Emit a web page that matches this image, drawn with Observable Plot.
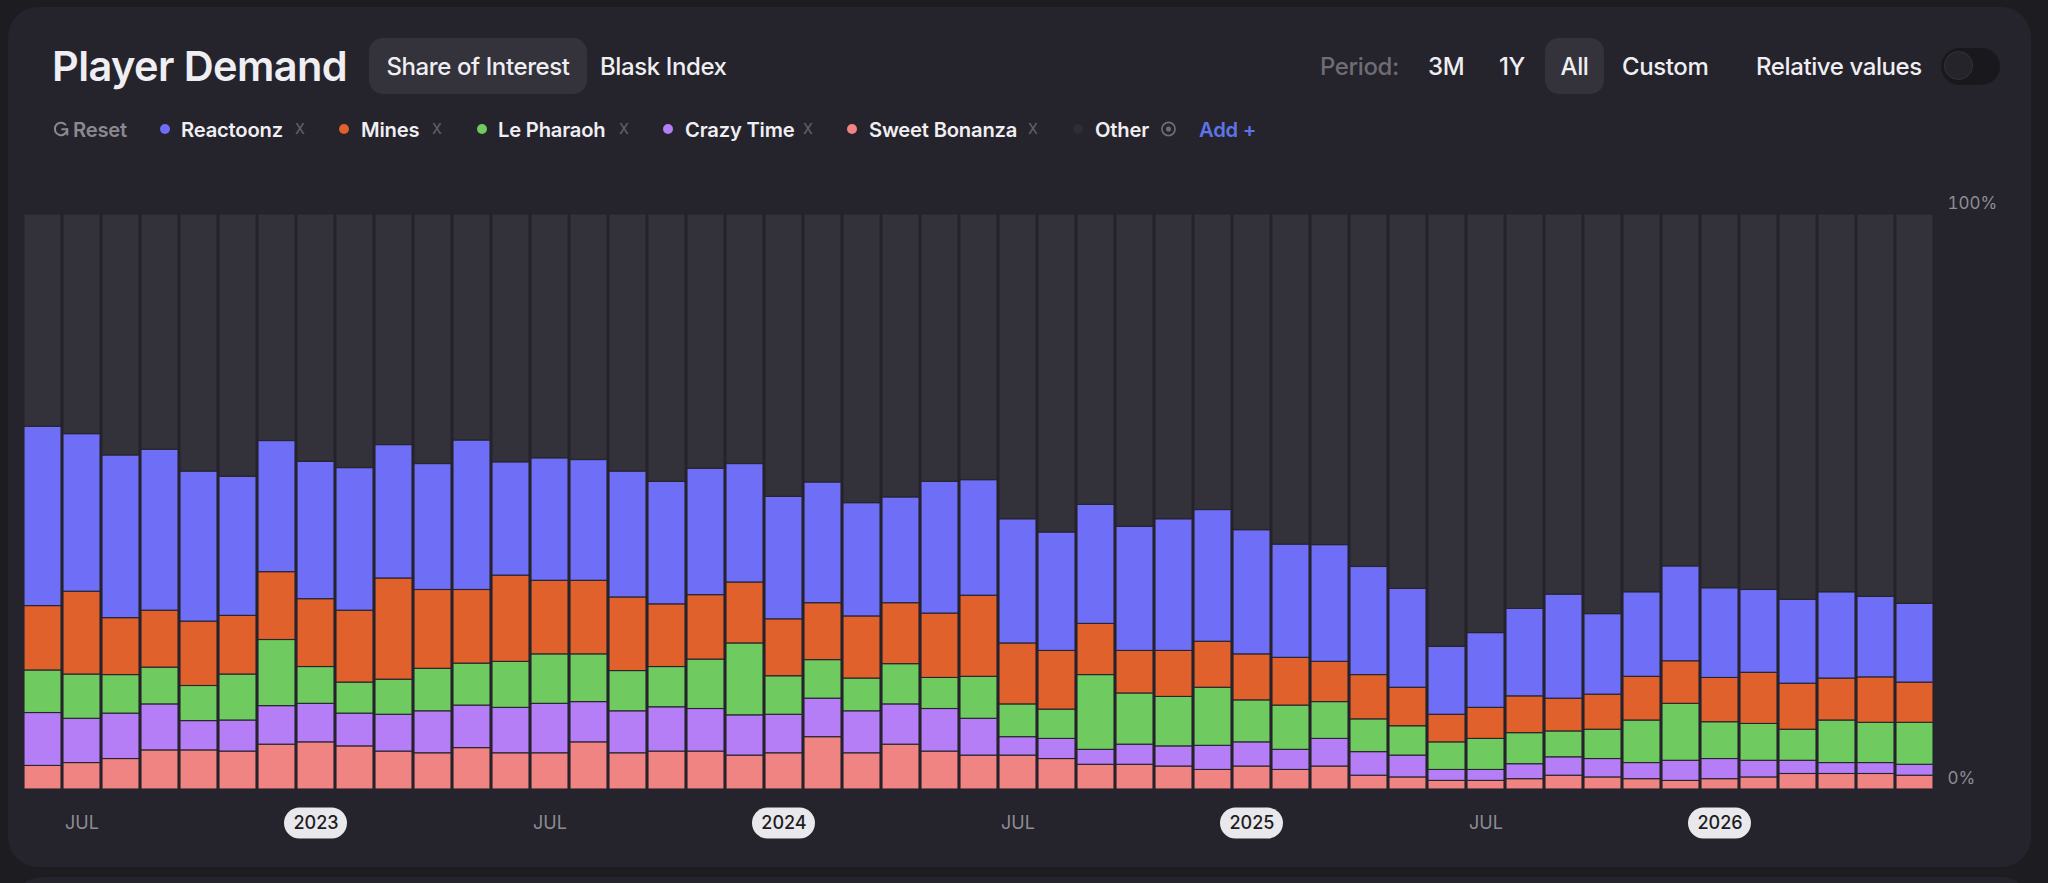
<!DOCTYPE html>
<html>
<head>
<meta charset="utf-8">
<script src="https://cdn.jsdelivr.net/npm/d3@7"></script>
<script src="https://cdn.jsdelivr.net/npm/@observablehq/plot@0.6"></script>
<style>
  html, body { margin: 0; padding: 0; background: #1d1c21; }
  .page { position: relative; width: 2048px; height: 883px; overflow: hidden; background: #1d1c21; font-family: Inter, "Noto Sans", sans-serif; color: #efeef2; }
  .card { position: absolute; left: 8px; top: 7px; width: 2023px; height: 860px; background: #25232b; border-radius: 30px; }
  .card2 { position: absolute; left: 12px; top: 877px; width: 2019px; height: 60px; background: #25232b; border-radius: 30px; }
  .it { position: absolute; display: flex; align-items: center; transform: translateY(-50%); white-space: nowrap; }
  .title { font-size: 41.5px; font-weight: 600; letter-spacing: -0.6px; height: 56px; }
  .tab { font-size: 24px; font-weight: 500; height: 56px; letter-spacing: -0.4px; }
  .btn { background: #34323a; border-radius: 14px; justify-content: center; }
  .muted { color: #6e6c74; }
  .leg { font-size: 20.2px; font-weight: 600; height: 30px; letter-spacing: -0.2px; }
  .dot { position: absolute; width: 10px; height: 10px; border-radius: 50%; transform: translate(-50%, -50%); }
  .x { position: absolute; transform: translate(-50%, -55%); color: #5f5d65; font-size: 19px; font-weight: 400; }
  .toggle { position: absolute; left: 1941px; top: 48px; width: 59px; height: 37px; border-radius: 19px; background: #19181d; }
  .knob { position: absolute; left: 3px; top: 3px; width: 29px; height: 29px; border-radius: 50%; background: #25242a; border: 1px solid #34333a; box-sizing: border-box; }
  #chart { position: absolute; left: 0; top: 150px; }
</style>
</head>
<body>
<div class="page">
  <div class="card"></div>
  <div class="card2"></div>

  <div class="it title" style="left:52px;top:66px">Player Demand</div>
  <div class="it tab btn" style="left:369px;top:66px;width:218px">Share of Interest</div>
  <div class="it tab" style="left:600px;top:66px">Blask Index</div>

  <div class="it tab muted" style="left:1320px;top:66px">Period:</div>
  <div class="it tab" style="left:1428px;top:66px">3M</div>
  <div class="it tab" style="left:1499px;top:66px">1Y</div>
  <div class="it tab btn" style="left:1545px;top:66px;width:59px">All</div>
  <div class="it tab" style="left:1622px;top:66px">Custom</div>
  <div class="it tab" style="left:1756px;top:66px">Relative values</div>
  <div class="toggle"><div class="knob"></div></div>

  <div class="it leg" style="left:52px;top:129px;color:#8b8990">
    <svg width="18" height="18" viewBox="0 0 16 16" style="margin-right:3px">
      <path d="M13.5 8 A5.5 5.5 0 1 1 11.9 4.1" fill="none" stroke="#8b8990" stroke-width="1.8" stroke-linecap="round"/>
      <path d="M9 8.2 H13.6 V12.8" fill="none" stroke="#8b8990" stroke-width="1.8" stroke-linecap="round" stroke-linejoin="round"/>
    </svg>Reset</div>

  <div id="chart"></div>
</div>

<script>
// ---- data -------------------------------------------------------------
const months = [
  "2022-06","2022-07","2022-08","2022-09","2022-10","2022-11","2022-12",
  "2023-01","2023-02","2023-03","2023-04","2023-05","2023-06","2023-07","2023-08","2023-09","2023-10","2023-11","2023-12",
  "2024-01","2024-02","2024-03","2024-04","2024-05","2024-06","2024-07","2024-08","2024-09","2024-10","2024-11","2024-12",
  "2025-01","2025-02","2025-03","2025-04","2025-05","2025-06","2025-07","2025-08","2025-09","2025-10","2025-11","2025-12",
  "2026-01","2026-02","2026-03","2026-04","2026-05","2026-06"
];

const sweetBonanza = [4.1,4.6,5.3,6.8,6.8,6.6,7.8,8.2,7.5,6.6,6.3,7.2,6.3,6.3,8.2,6.3,6.6,6.6,5.9,6.3,9.1,6.3,7.8,6.6,5.9,
  5.9,5.3,4.3,4.3,4.0,3.4,4.0,3.4,4.0,2.4,2.1,1.5,1.5,1.8,2.4,2.1,1.8,1.5,1.8,2.1,2.7,2.7,2.7,2.4];
const crazyTime = [9.2,7.7,7.9,8.0,5.1,5.4,6.7,6.7,5.7,6.4,7.3,7.4,7.9,8.6,7.0,7.3,7.7,7.4,7.0,6.7,6.7,7.3,7.0,7.4,6.4,
  3.2,3.5,2.6,3.5,3.5,4.2,4.2,3.5,4.8,4.1,3.8,1.9,1.9,2.6,3.2,3.2,2.8,3.5,3.5,2.9,2.3,1.9,1.9,1.9];
const lePharaoh = [7.4,7.7,6.7,6.4,6.1,8.0,11.5,6.4,5.4,6.1,7.4,7.3,8.0,8.6,8.3,7.0,7.0,8.6,12.5,6.7,6.7,5.7,7.0,5.4,7.3,
  5.7,5.1,13.0,8.9,8.6,10.1,7.3,7.7,6.4,5.7,5.1,4.8,5.4,5.4,4.5,5.1,7.4,9.9,6.4,6.4,5.4,7.4,7.0,7.3];
const mines = [11.2,14.4,9.9,9.9,11.2,10.2,11.8,11.8,12.5,17.6,13.7,12.8,15.0,12.8,12.8,12.8,10.9,11.2,10.6,9.9,9.9,10.8,10.6,11.2,14.1,
  10.6,10.2,8.9,7.4,8.0,8.0,8.0,8.3,7.0,7.7,6.7,4.8,5.4,6.4,5.7,6.1,7.6,7.4,7.7,8.9,8.0,7.3,7.9,7.0];
const reactoonz = [31.2,27.4,28.3,28.0,26.1,24.2,22.8,23.9,24.8,23.2,21.9,26.0,19.7,21.3,21.0,21.9,21.3,22.0,20.6,21.3,21.0,19.7,18.4,22.9,20.1,
  21.6,20.6,20.7,21.6,22.9,22.9,21.6,19.7,20.3,18.8,17.2,11.8,13.0,15.2,18.1,14.0,14.7,16.5,15.6,14.4,14.6,15.0,14.0,13.7];
const other = [36.9,38.2,41.9,40.9,44.7,45.6,39.4,43.0,44.1,40.1,43.4,39.3,43.1,42.4,42.7,44.7,46.5,44.2,43.4,49.1,46.6,50.2,49.2,46.5,46.2,
  53.0,55.3,50.5,54.3,53.0,51.4,54.9,57.4,57.5,61.3,65.1,75.2,72.8,68.6,66.1,69.5,65.7,61.2,65.0,65.3,67.0,65.7,66.5,67.7];

// stacking order, bottom to top
const seriesNames  = ["Sweet Bonanza", "Crazy Time", "Le Pharaoh", "Mines", "Reactoonz", "Other"];
const seriesValues = [sweetBonanza, crazyTime, lePharaoh, mines, reactoonz, other];
const seriesColors = ["#ef8482", "#b57ef6", "#6fcb60", "#e0612b", "#6e6ef6", "#333139"];

// legend order (as shown)
const legendItems = [
  {name: "Reactoonz",     color: "#6e6ef6", dot: 165,  text: 181,  close: 300},
  {name: "Mines",         color: "#e0612b", dot: 344,  text: 361,  close: 437},
  {name: "Le Pharaoh",    color: "#6fcb60", dot: 482,  text: 498,  close: 624},
  {name: "Crazy Time",    color: "#b57ef6", dot: 668,  text: 685,  close: 808},
  {name: "Sweet Bonanza", color: "#ef8482", dot: 852,  text: 869,  close: 1033},
  {name: "Other",         color: "#2e2d33", dot: 1078, text: 1095, close: null}
];

const xTicks = [
  {month: "2022-07", label: "JUL"},
  {month: "2023-01", label: "2023"},
  {month: "2023-07", label: "JUL"},
  {month: "2024-01", label: "2024"},
  {month: "2024-07", label: "JUL"},
  {month: "2025-01", label: "2025"},
  {month: "2025-07", label: "JUL"},
  {month: "2026-01", label: "2026"}
];
const yTicks = [0, 100];

// ---- legend (HTML) ---------------------------------------------------
const page = document.querySelector(".page");
for (const it of legendItems) {
  const d = document.createElement("div");
  d.className = "dot"; d.style.left = it.dot + "px"; d.style.top = "129px"; d.style.background = it.color;
  page.appendChild(d);
  const t = document.createElement("div");
  t.className = "it leg"; t.style.left = it.text + "px"; t.style.top = "129px"; t.textContent = it.name;
  page.appendChild(t);
  if (it.close != null) {
    const c = document.createElement("div");
    c.className = "x"; c.style.left = it.close + "px"; c.style.top = "129px"; c.textContent = "x";
    page.appendChild(c);
  }
}
// eye icon + Add
const eye = document.createElement("div");
eye.className = "it"; eye.style.left = "1160px"; eye.style.top = "129px";
eye.innerHTML = '<svg width="17" height="17" viewBox="0 0 16 16"><circle cx="8" cy="8" r="6.2" fill="none" stroke="#6e6c74" stroke-width="1.6"/><circle cx="8" cy="8" r="2.4" fill="#6e6c74"/></svg>';
page.appendChild(eye);
const add = document.createElement("div");
add.className = "it leg"; add.style.left = "1199px"; add.style.top = "129px"; add.style.color = "#5f74e6";
add.textContent = "Add +";
page.appendChild(add);

// ---- chart -----------------------------------------------------------
const data = months.flatMap((m, i) =>
  seriesNames.map((s, k) => ({month: m, series: s, value: seriesValues[k][i]}))
);

const H = 720, MB = 81, LABEL_DY = 34;
const chart = Plot.plot({
  width: 2048,
  height: H,
  marginLeft: 20,
  marginRight: 110,
  marginTop: 64,
  marginBottom: MB,
  style: {background: "transparent", fontFamily: "Inter, sans-serif", overflow: "visible"},
  x: {type: "band", domain: months, padding: 0.05, axis: null},
  y: {domain: [0, 100], axis: null, label: null},
  color: {domain: seriesNames, range: seriesColors},
  marks: [
    Plot.barY(data, {
      x: "month", y: "value", z: "series", fill: "series",
      order: seriesNames,
      stroke: "#26242c", strokeWidth: 1.1
    }),
    Plot.axisY({
      anchor: "right", ticks: yTicks, tickFormat: d => d + "%", label: null,
      tickSize: 0, tickPadding: 9, dy: -11,
      fill: "#8e8c94", fontSize: 17, fontWeight: 400
    }),
    Plot.text(xTicks.filter(d => d.label === "JUL"), {
      x: "month", text: "label", frameAnchor: "bottom", dy: LABEL_DY, lineAnchor: "middle",
      fill: "#8e8c94", fontSize: 18, fontWeight: 400
    }),
    Plot.text(xTicks.filter(d => d.label !== "JUL"), {
      x: "month", text: "label", frameAnchor: "bottom", dy: LABEL_DY, lineAnchor: "middle",
      fill: "#1d1c21", fontSize: 18, fontWeight: 500
    })
  ]
});
document.getElementById("chart").appendChild(chart);

// pill backgrounds for year labels
const xs = chart.scale("x");
const svg = d3.select(chart);
const pillLayer = svg.insert("g", ":scope > g:last-of-type");
for (const t of xTicks.filter(d => d.label !== "JUL")) {
  const cx = xs.apply(t.month) + xs.bandwidth / 2;
  const cy = H - MB + LABEL_DY;
  pillLayer.append("rect")
    .attr("x", cx - 31.5).attr("y", cy - 15.5)
    .attr("width", 63).attr("height", 31)
    .attr("rx", 15.5)
    .attr("fill", "#e9e8ec");
}
</script>
</body>
</html>
